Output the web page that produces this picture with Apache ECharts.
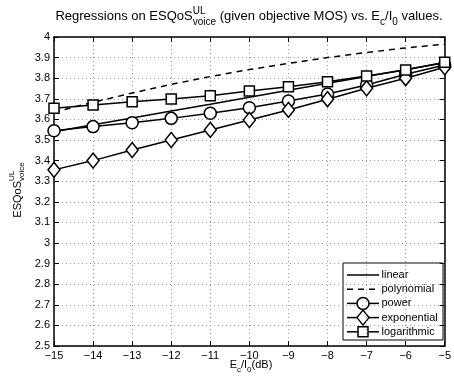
<!DOCTYPE html>
<html>
<head>
<meta charset="utf-8">
<script src="https://cdn.jsdelivr.net/npm/echarts@6/dist/echarts.min.js"></script>
<style>
  html, body { margin: 0; padding: 0; background: #fff; }
  #chart { width: 454px; height: 378px; }
</style>
</head>
<body>
<div id="chart"></div>
<script>
// Ec/I0 (dB) sample points
const ecio = [-15, -14, -13, -12, -11, -10, -9, -8, -7, -6, -5];

// Regression curves of ESQoS (uplink, voice)
const linear      = [3.540, 3.574, 3.607, 3.641, 3.674, 3.708, 3.741, 3.775, 3.808, 3.842, 3.875];
const polynomial  = [3.635, 3.683, 3.728, 3.770, 3.808, 3.842, 3.872, 3.900, 3.925, 3.947, 3.965];
const power       = [3.545, 3.565, 3.584, 3.605, 3.630, 3.657, 3.689, 3.723, 3.767, 3.819, 3.864];
const exponential = [3.355, 3.400, 3.451, 3.500, 3.549, 3.597, 3.646, 3.698, 3.751, 3.800, 3.853];
const logarithmic = [3.654, 3.670, 3.686, 3.699, 3.715, 3.738, 3.759, 3.783, 3.811, 3.840, 3.877];

const seriesNames = ['linear', 'polynomial', 'power', 'exponential', 'logarithmic'];

const FONT = '"Liberation Sans", Arial, Helvetica, sans-serif';
const measureCtx = document.createElement('canvas').getContext('2d');
function textW(t, size) {
  measureCtx.font = size + 'px ' + FONT;
  return measureCtx.measureText(t).width;
}
// one text run placed by its baseline
function txt(t, x, dy, size) {
  return {
    type: 'text', x: x, y: dy - 0.35 * size, silent: true,
    style: { text: t, fill: '#000', font: size + 'px ' + FONT, verticalAlign: 'middle', align: 'left' }
  };
}
// lay out a line of text with sub/superscripts
function buildRun(parts) {
  let x = 0;
  const els = [];
  for (const p of parts) {
    if (p.sup !== undefined) {
      els.push(txt(p.sup, x, p.supDy, p.size));
      els.push(txt(p.sub, x, p.subDy, p.size));
      x += Math.max(textW(p.sup, p.size), textW(p.sub, p.size));
    } else {
      els.push(txt(p.t, x, p.dy || 0, p.size));
      x += textW(p.t, p.size);
    }
  }
  return { els: els, width: x };
}

const titleRun = buildRun([
  { t: 'Regressions on ESQoS', size: 13 },
  { sup: 'UL', sub: 'voice', size: 10, supDy: -6, subDy: 5 },
  { t: ' (given objective MOS) vs. E', size: 13 },
  { t: 'c', size: 10, dy: 5 },
  { t: '/I', size: 13 },
  { t: '0', size: 10, dy: 5 },
  { t: ' values.', size: 13 }
]);

const yNameRun = buildRun([
  { t: 'ESQoS', size: 11 },
  { sup: 'UL', sub: 'voice', size: 8, supDy: -7, subDy: 3 }
]);

const xNameRun = buildRun([
  { t: 'E', size: 11 },
  { t: 'c', size: 8, dy: 4 },
  { t: '/I', size: 11 },
  { t: '0', size: 8, dy: 4 },
  { t: '(dB)', size: 11 }
]);

const grid = { left: 54, right: 6, top: 37, bottom: 32 };
const plotCx = grid.left + (454 - grid.left - grid.right) / 2;

const minus = v => (v < 0 ? '\u2212' : '') + Math.abs(v);

const baseX = {
  type: 'value', min: -15, max: -5, interval: 1,
  axisLine: { onZero: false, lineStyle: { color: '#000', width: 1.5 } },
  axisTick: { inside: true, length: 5, lineStyle: { color: '#000', width: 1 } }
};
const baseY = {
  type: 'value', min: 2.5, max: 4, interval: 0.1,
  axisLine: { onZero: false, lineStyle: { color: '#000', width: 1.5 } },
  axisTick: { inside: true, length: 5, lineStyle: { color: '#000', width: 1 } }
};
const gridLine = { show: true, lineStyle: { color: '#999', width: 1, type: [1, 3] } };

const markerStyle = { fill: '#fff', stroke: '#000', lineWidth: 1.5 };
const DASH = [6, 5];

function makeSeries(name, values, symbol, size, dashed) {
  return {
    name: name, type: 'line', xAxisIndex: 0, yAxisIndex: 0,
    data: ecio.map((x, i) => [x, values[i]]),
    symbol: symbol, symbolSize: size, showSymbol: symbol !== 'none',
    color: '#000',
    lineStyle: { color: '#000', width: 1.5, type: dashed ? DASH : 'solid' },
    itemStyle: { color: '#fff', borderColor: '#000', borderWidth: 1.5 },
    emphasis: { disabled: true },
    animation: false
  };
}

// legend box: line sample, marker and label for each curve
const legendBox = { x: 343, y: 263, w: 100, h: 77 };
const legendMarkers = ['none', 'none', 'circle', 'diamond', 'rect'];
function legendMarker(kind, cx, cy) {
  if (kind === 'circle') return { type: 'circle', shape: { cx: cx, cy: cy, r: 6 }, style: markerStyle, silent: true };
  if (kind === 'rect') return { type: 'rect', shape: { x: cx - 5, y: cy - 5, width: 10, height: 10 }, style: markerStyle, silent: true };
  if (kind === 'diamond') return { type: 'polygon', shape: { points: [[cx, cy - 7.5], [cx + 6, cy], [cx, cy + 7.5], [cx - 6, cy]] }, style: markerStyle, silent: true };
  return null;
}
const legendEls = [{
  type: 'rect', shape: { x: legendBox.x, y: legendBox.y, width: legendBox.w, height: legendBox.h },
  style: { fill: '#fff', stroke: '#000', lineWidth: 1 }, silent: true
}];
seriesNames.forEach((name, i) => {
  const cy = legendBox.y + 12 + i * 14.2;
  legendEls.push({
    type: 'line', shape: { x1: legendBox.x + 4, y1: cy, x2: legendBox.x + 36, y2: cy },
    style: { stroke: '#000', lineWidth: 1.5, lineDash: i === 1 ? DASH : null }, silent: true
  });
  const m = legendMarker(legendMarkers[i], legendBox.x + 20, cy);
  if (m) legendEls.push(m);
  legendEls.push({
    type: 'text', x: legendBox.x + 38.5, y: cy, silent: true,
    style: { text: name, fill: '#000', font: '11px ' + FONT, verticalAlign: 'middle', align: 'left' }
  });
});

const chart = echarts.init(document.getElementById('chart'), null, { renderer: 'canvas' });
chart.setOption({
  animation: false,
  backgroundColor: '#fff',
  textStyle: { fontFamily: FONT },
  grid: grid,
  xAxis: [
    Object.assign({}, baseX, {
      position: 'bottom',
      axisLabel: { color: '#000', fontSize: 11, fontFamily: FONT, margin: 4, formatter: minus },
      splitLine: gridLine
    }),
    Object.assign({}, baseX, {
      position: 'top',
      axisLabel: { show: false },
      splitLine: { show: false }
    })
  ],
  yAxis: [
    Object.assign({}, baseY, {
      position: 'left',
      axisLabel: { color: '#000', fontSize: 11, fontFamily: FONT, margin: 4 },
      splitLine: gridLine
    }),
    Object.assign({}, baseY, {
      position: 'right',
      axisLabel: { show: false },
      splitLine: { show: false }
    })
  ],
  series: [
    makeSeries('linear', linear, 'none', 0, false),
    makeSeries('polynomial', polynomial, 'none', 0, true),
    makeSeries('power', power, 'circle', 12, false),
    makeSeries('exponential', exponential, 'diamond', [12, 15], false),
    makeSeries('logarithmic', logarithmic, 'rect', 10, false)
  ],
  graphic: [
    { type: 'group', x: 249 - titleRun.width / 2, y: 21, children: titleRun.els },
    { type: 'group', x: plotCx - xNameRun.width / 2, y: 369, children: xNameRun.els },
    { type: 'group', x: 22, y: 190 + yNameRun.width / 2, rotation: Math.PI / 2, children: yNameRun.els },
    { type: 'group', z: 100, children: legendEls }
  ]
});
</script>
</body>
</html>
